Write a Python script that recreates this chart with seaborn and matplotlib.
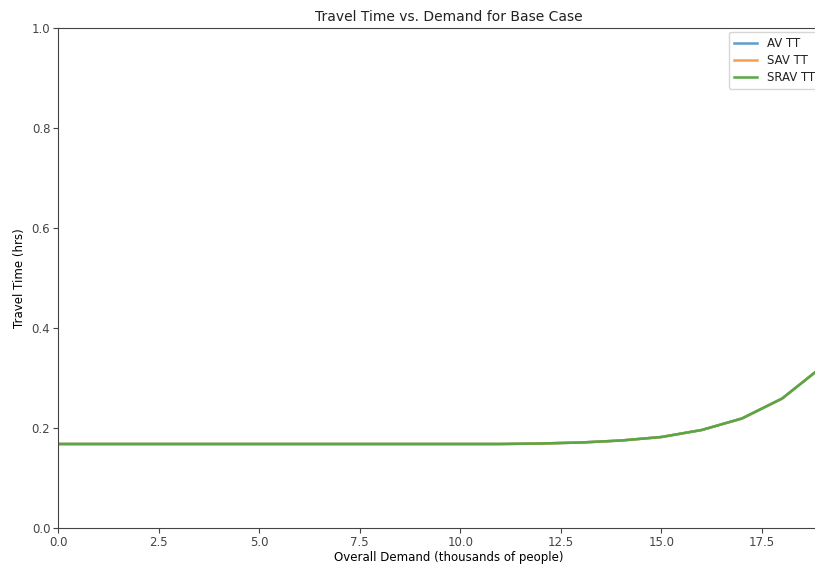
import numpy as np
import pandas as pd
import matplotlib
matplotlib.use('Agg')
import matplotlib.pyplot as plt
import seaborn as sns

# demand in thousands of people
demand = [0, 1, 2, 3, 4, 5, 6, 7, 8, 9, 10, 11, 12, 13, 14, 15, 16, 17, 18, 19, 20]
av_tt = [0.168, 0.168, 0.168, 0.168, 0.168, 0.168, 0.168, 0.168, 0.168, 0.168,
         0.168, 0.168, 0.169, 0.171, 0.175, 0.182, 0.196, 0.219, 0.259, 0.323, 0.42]
sav_tt = list(av_tt)
srav_tt = list(av_tt)

df = pd.DataFrame({'demand': demand, 'AV TT': av_tt, 'SAV TT': sav_tt, 'SRAV TT': srav_tt})
long = df.melt(id_vars='demand', var_name='series', value_name='tt')

plt.rcParams['font.family'] = ['DejaVu Sans']
plt.rcParams['axes.edgecolor'] = '#444444'
plt.rcParams['xtick.color'] = '#444444'
plt.rcParams['ytick.color'] = '#444444'
plt.rcParams['text.color'] = '#222222'

fig = plt.figure(figsize=(8.15, 5.64), dpi=100)
# axes reach past the right edge, like the cropped original
ax = fig.add_axes([58/815, 1 - 528/564, (840 - 58)/815, 500/564])

sns.lineplot(data=long, x='demand', y='tt', hue='series',
             palette=['#5f9ec8', '#f5a04a', '#57a845'], linewidth=1.8, ax=ax, legend=True)

ax.set_xlim(0, (840 - 58) / 40.23)
ax.set_ylim(0, 1.0)
ax.set_xticks([0, 2.5, 5, 7.5, 10, 12.5, 15, 17.5])
ax.set_yticks([0.0, 0.2, 0.4, 0.6, 0.8, 1.0])
ax.tick_params(labelsize=8.5, length=3.5, pad=2)
ax.set_xlabel('Overall Demand (thousands of people)', fontsize=8.5, labelpad=2)
ax.set_ylabel('Travel Time (hrs)', fontsize=8.5, labelpad=4)
ax.set_title('Travel Time vs. Demand for Base Case', fontsize=10, pad=5)
ax.legend(loc='upper left', bbox_to_anchor=(729/815, 1 - 32/564),
          bbox_transform=fig.transFigure, fontsize=8.5, labelspacing=0.35,
          borderaxespad=0, title=None)

fig.savefig('out.png', dpi=100)
